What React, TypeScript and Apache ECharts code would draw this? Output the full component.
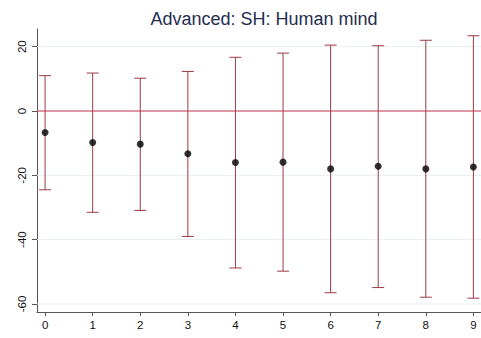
import React, { useEffect, useRef } from "react";
import * as echarts from "echarts";

const categories = [0, 1, 2, 3, 4, 5, 6, 7, 8, 9];
const estimates = [-6.7, -9.8, -10.3, -13.3, -16.0, -15.9, -18.0, -17.2, -18.0, -17.4];
const lowerCI = [-24.5, -31.5, -30.9, -39.0, -48.8, -49.8, -56.5, -54.9, -57.9, -58.2];
const upperCI = [11.0, 11.8, 10.2, 12.3, 16.7, 18.0, 20.5, 20.3, 22.0, 23.4];
const yTicks = [-60, -40, -20, 0, 20];
const gridValues = [-60, -40, -20, 20];
const referenceValue = 0;
const titleText = "Advanced: SH: Human mind";

export default function App() {
  const ref = useRef<HTMLDivElement>(null);
  useEffect(() => {
    if (!ref.current) return;
    const chart = echarts.init(ref.current, undefined, { renderer: "svg" });
    const barColor = "#9b3a45";
    const font = "Liberation Sans, Arial, sans-serif";
    chart.setOption({
      animation: false,
      title: {
        text: titleText,
        left: 259,
        textAlign: "center",
        top: 5,
        textStyle: {
          fontFamily: font,
          fontSize: 18,
          fontWeight: "normal",
          color: "#1f2d52",
        },
      },
      grid: { left: 37, right: 0, top: 29, bottom: 26 },
      xAxis: {
        type: "value",
        min: -0.17,
        max: 9.16,
        axisLine: { show: true, onZero: false, lineStyle: { color: "#555", width: 1 } },
        axisTick: { show: true, length: 4, customValues: categories, lineStyle: { color: "#555" } },
        axisLabel: {
          customValues: categories,
          margin: 7,
          color: "#111",
          fontSize: 11.5,
          fontFamily: font,
        },
        splitLine: { show: false },
      },
      yAxis: {
        type: "value",
        min: -62.5,
        max: 25.5,
        axisLine: { show: true, onZero: false, lineStyle: { color: "#555", width: 1 } },
        axisTick: { show: true, length: 5, customValues: yTicks, lineStyle: { color: "#555" } },
        axisLabel: {
          customValues: yTicks,
          rotate: 90,
          margin: 9,
          color: "#111",
          fontSize: 11.5,
          fontFamily: font,
        },
        splitLine: { show: false },
      },
      series: [
        {
          type: "custom",
          data: gridValues.map((v) => [v]),
          silent: true,
          renderItem: (params: any, api: any) => {
            const cs = params.coordSys;
            const p = api.coord([0, api.value(0)]);
            return {
              type: "line",
              shape: { x1: cs.x, y1: p[1], x2: cs.x + cs.width, y2: p[1] },
              style: { stroke: "#e6eeef", lineWidth: 1 },
            };
          },
          z: 1,
        },
        {
          type: "custom",
          data: categories.map((c, i) => [c, lowerCI[i], upperCI[i]]),
          renderItem: (params: any, api: any) => {
            const x = api.value(0);
            const lo = api.coord([x, api.value(1)]);
            const hi = api.coord([x, api.value(2)]);
            const hw = 6;
            const style = { stroke: barColor, lineWidth: 1, fill: "none" };
            return {
              type: "group",
              children: [
                { type: "line", shape: { x1: lo[0], y1: lo[1], x2: hi[0], y2: hi[1] }, style },
                { type: "line", shape: { x1: lo[0] - hw, y1: lo[1], x2: lo[0] + hw, y2: lo[1] }, style },
                { type: "line", shape: { x1: hi[0] - hw, y1: hi[1], x2: hi[0] + hw, y2: hi[1] }, style },
              ],
            };
          },
          z: 2,
        },
        {
          type: "custom",
          data: [[referenceValue]],
          silent: true,
          renderItem: (params: any, api: any) => {
            const cs = params.coordSys;
            const p = api.coord([0, api.value(0)]);
            return {
              type: "line",
              shape: { x1: cs.x, y1: p[1], x2: cs.x + cs.width, y2: p[1] },
              style: { stroke: "#c0304f", lineWidth: 1 },
            };
          },
          z: 3,
        },
        {
          type: "scatter",
          data: categories.map((c, i) => [c, estimates[i]]),
          symbol: "circle",
          symbolSize: 7,
          itemStyle: { color: "#000" },
          z: 4,
        },
      ],
    });
    return () => chart.dispose();
  }, []);
  return <div ref={ref} style={{ width: 481, height: 338, position: "absolute", left: 0, top: 0, background: "#fff" }} />;
}
